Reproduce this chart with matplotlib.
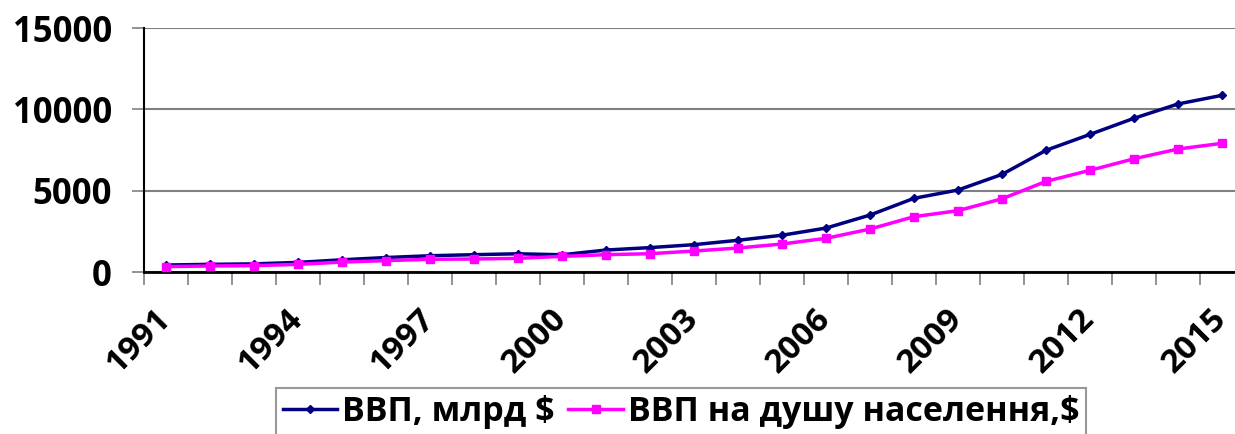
import numpy as np
import matplotlib.pyplot as plt

years = list(range(1991, 2016))
gdp = [430, 470, 500, 590, 750, 890, 1000, 1065, 1120, 1060, 1350, 1500, 1680,
       1950, 2260, 2700, 3500, 4530, 5040, 6000, 7480, 8460, 9450, 10330, 10860]
gdp_pc = [330, 370, 390, 470, 610, 700, 780, 800, 840, 960, 1065, 1125, 1290,
          1475, 1720, 2070, 2640, 3400, 3770, 4500, 5570, 6250, 6960, 7560, 7910]
labels = ['ВВП, млрд $', 'ВВП на душу населення,$']

plt.rcParams['font.family'] = ['Open Sans', 'DejaVu Sans']
plt.rcParams['font.weight'] = 'bold'

fig = plt.figure(figsize=(12.35, 4.34), dpi=100)
ax = fig.add_axes([144/1235, 1-272/434, 1100/1235, 244/434])

x = np.arange(len(years))
ax.plot(x, gdp, color='#000080', lw=2.5, marker='D', ms=4.5, label=labels[0], zorder=3)
ax.plot(x, gdp_pc, color='#FF00FF', lw=2.5, marker='s', ms=6, label=labels[1], zorder=3)

ax.set_xlim(-0.5, len(years) - 0.5)
ax.set_ylim(0, 15000)
ax.set_yticks([0, 5000, 10000, 15000])
ax.yaxis.grid(True, color='#808080', lw=1.5)
ax.set_axisbelow(True)

# category ticks between years, labels every 3 years
ax.set_xticks(x[::3])
ax.set_xticklabels([str(y) for y in years[::3]], rotation=45, ha='right', va='center',
                   rotation_mode='anchor', fontsize=24, fontweight='bold')
ax.set_xticks(np.arange(-0.5, len(years)), minor=True)
ax.tick_params(axis='x', which='major', length=0, pad=30)
ax.tick_params(axis='x', which='minor', length=9, width=1.2, color='#808080')
ax.tick_params(axis='y', length=9, width=1.2, color='#808080', pad=14, labelsize=25)
for t in ax.get_yticklabels():
    t.set_fontweight('bold')

for s in ['top', 'right']:
    ax.spines[s].set_visible(False)
ax.spines['left'].set_linewidth(1.5)
ax.spines['bottom'].set_linewidth(2)

leg = fig.legend(loc='upper left', bbox_to_anchor=(276/1235, 1-388/434), ncol=2,
                 prop={'weight': 'bold', 'size': 24.5}, frameon=True, fancybox=False,
                 edgecolor='#808080', handlelength=1.6, handletextpad=0.15,
                 columnspacing=0.4, borderpad=0.2, borderaxespad=0)
leg.get_frame().set_linewidth(1.5)

plt.savefig('out.png', dpi=100)
